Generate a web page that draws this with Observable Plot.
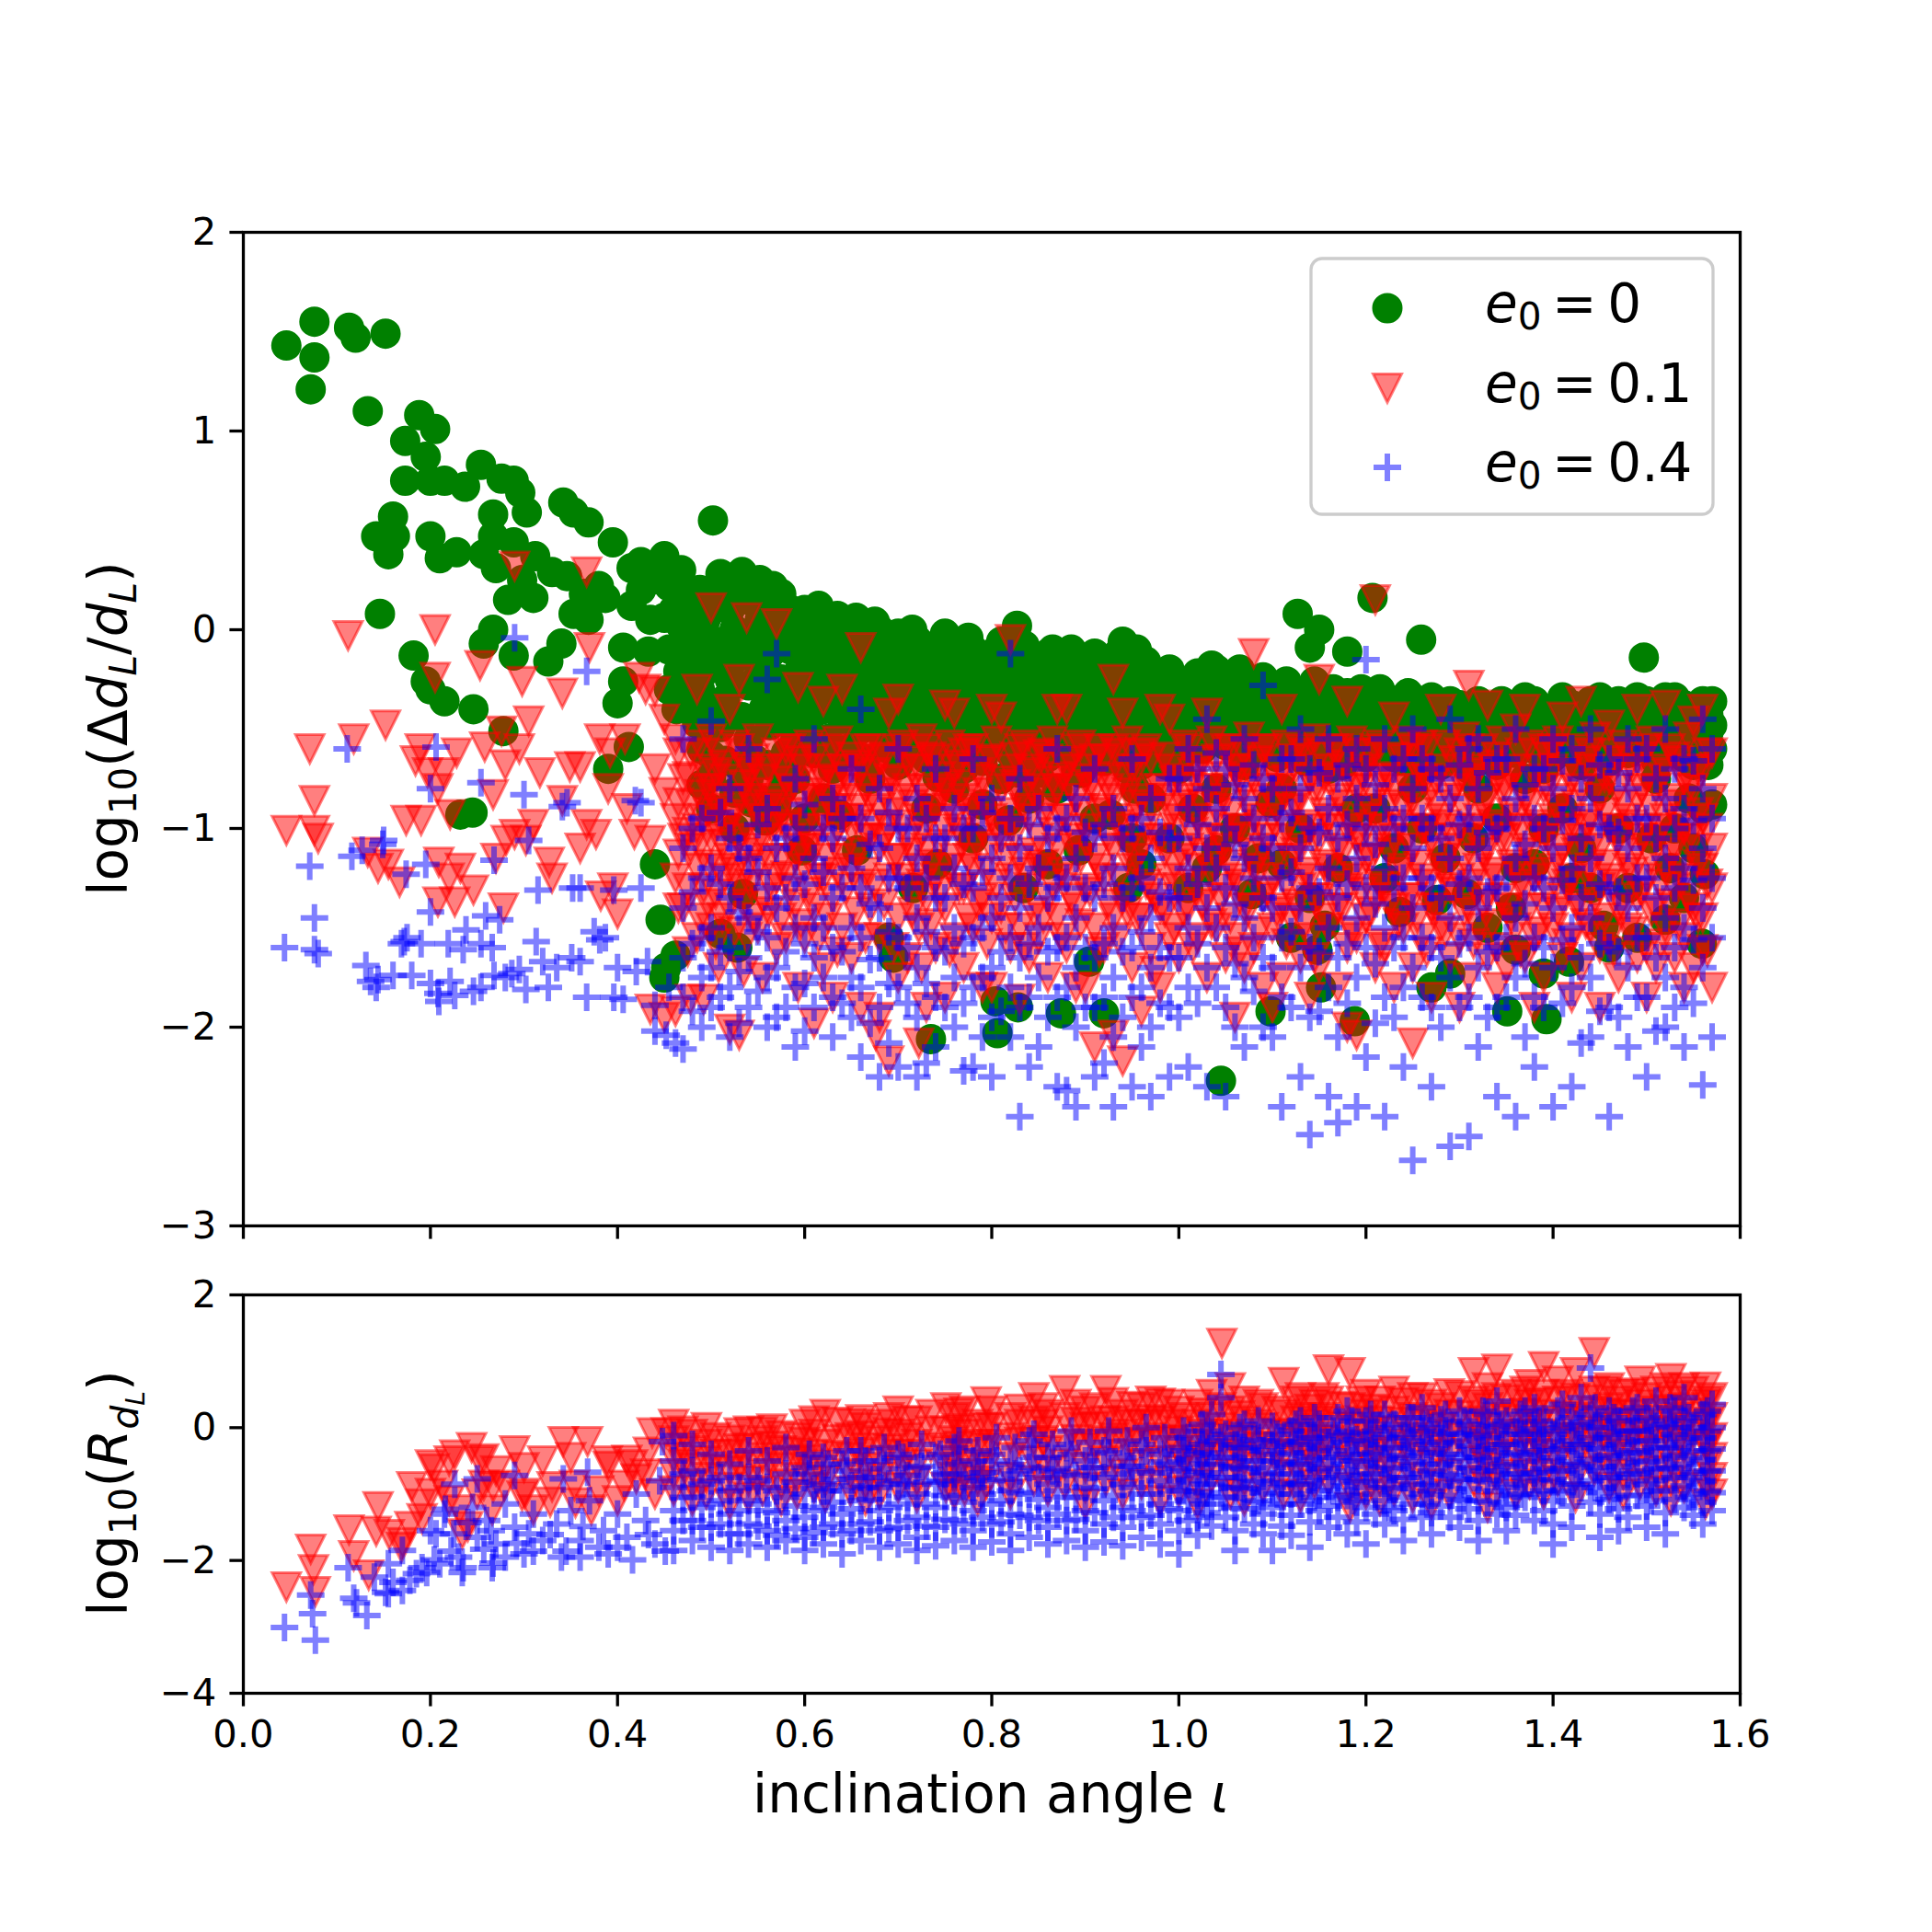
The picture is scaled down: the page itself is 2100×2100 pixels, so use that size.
<!DOCTYPE html>
<html><head><meta charset="utf-8">
<script src="https://cdn.jsdelivr.net/npm/d3@7"></script>
<script src="https://cdn.jsdelivr.net/npm/@observablehq/plot@0.6"></script>
<style>
body{margin:0;background:#fff;}
#fig{position:relative;width:2100px;height:2100px;background:#fff;font-family:"DejaVu Sans";}
#fig svg{position:absolute;left:0;max-width:none;}
</style></head><body><div id="fig"></div>
<script>
// ---- tick values ----
const xTicks = [0, 0.2, 0.4, 0.6, 0.8, 1.0, 1.2, 1.4, 1.6];
const topYTicks = [-3, -2, -1, 0, 1, 2];
const botYTicks = [-4, -2, 0, 2];
const legendLabels = ["0", "0.1", "0.4"];

// ---- data rows: [x, y1, y2, ...] ----
// top panel, e0 = 0 (green circles)
const topE0_0 = [
[0.046,1.43],[0.072,1.21],[0.076,1.55,1.37],[0.113,1.52],[0.12,1.47],[0.133,1.10],[0.142,0.47],[0.146,0.08],[0.152,1.49],[0.155,0.38],[0.16,0.57],[0.162,0.47],[0.173,0.95,0.75],[0.182,-0.13],[0.188,1.08],[0.195,0.87,-0.26],[0.2,0.75,0.47,-0.30],[0.205,1.01],[0.21,0.36],[0.215,0.75,-0.36],[0.228,0.39],[0.232,-0.93],[0.237,0.72],[0.245,-0.92],[0.246,-0.40],[0.254,0.83],[0.257,0.38,-0.07],[0.267,0.58,0.47,0.0],[0.27,0.31],[0.276,0.76],[0.278,-0.51],[0.283,0.15],[0.289,0.75,0.44,-0.13],[0.296,0.69],[0.298,0.25],[0.303,0.59],[0.31,0.16],[0.312,0.37],[0.326,-0.16],[0.33,0.29],[0.34,-0.07],[0.342,0.64],[0.346,0.27],[0.353,0.59,0.08],[0.364,0.18],[0.369,0.54,0.05],[0.38,0.22],[0.387,0.16],[0.39,-0.70],[0.395,0.44],[0.4,-0.37],[0.406,-0.09,-0.26],[0.412,-0.59],[0.415,0.31,0.12],[0.425,0.34,0.20],[0.433,-0.11],[0.435,0.25,0.05],[0.44,-1.18],[0.446,0.30,-1.46],[0.45,0.37,0.06,-1.75],[0.452,-1.70],[0.46,0.25,0.10],[0.462,-1.64],[0.463,-0.40],[0.465,-0.21],[0.47,0.15,-0.05],[0.48,-0.01],[0.485,-0.24,-0.47],[0.494,0.05],[0.49,-0.10],[0.5,-0.63,-0.74],[0.502,0.55],[0.505,-0.06],[0.51,0.28,-0.49,-1.53],[0.52,0.10,-0.25],[0.528,-1.60],[0.53,-0.69],[0.533,0.29,-0.44],[0.534,-1.33],[0.544,-0.87],[0.546,-0.65],[0.55,-0.15],[0.556,-0.40,-0.86],[0.558,-0.96],[0.56,-0.05],[0.566,0.22,-0.30],[0.57,0.19],[0.577,-0.80],[0.58,-0.43,-0.62],[0.59,0.05],[0.595,-0.20],[0.597,-1.11],
[0.60,0.10,-0.05,-0.20,-0.38],[0.61,-0.62],[0.62,0.08,-0.08,-0.22,-0.40,-0.85],[0.63,-0.70],[0.637,-0.93],[0.64,0.05,-0.10,-0.28,-0.45],[0.65,-0.59],[0.656,-1.11],[0.66,0.02,-0.12,-0.30,-0.50],[0.67,-0.75],[0.68,0.0,-0.15,-0.30,-0.48],[0.685,-0.55],[0.69,-1.55],[0.695,-1.65],[0.70,-0.02,-0.16,-0.32,-0.52,-0.68],[0.716,-1.30],[0.72,-0.05,-0.20,-0.35,-0.55],[0.73,-0.90],[0.735,-2.06],[0.74,-0.08,-0.22,-0.38,-0.58],[0.742,-0.74,-1.18],[0.76,-0.06,-0.20,-0.36,-0.52,-0.80],[0.77,-0.70],[0.78,-0.10,-0.25,-0.40,-0.60,-1.05],[0.79,-0.88],[0.80,-0.12,-0.26,-0.42,-0.58],[0.804,-1.87],[0.806,-2.03],[0.81,-0.75],[0.818,-0.96],[0.82,-0.10,-0.28,-0.44,-0.62],[0.827,0.02],[0.828,-1.90],[0.83,-0.72],[0.834,-1.30],[0.84,-0.14,-0.30,-0.45,-0.60,-0.85],[0.86,-0.12,-0.28,-0.42,-0.64,-1.18],[0.87,-0.80],[0.874,-1.93],[0.88,-0.15,-0.30,-0.48,-0.62],[0.89,-0.70],[0.893,-1.11],[0.90,-0.18,-0.32,-0.46,-0.60],[0.904,-1.67],[0.91,-0.95],[0.92,-0.16,-0.34,-0.50,-0.66,-1.93],[0.927,-0.93],[0.94,-0.06,-0.30,-0.45,-0.62],[0.946,-1.30],[0.95,-1.05],[0.953,-0.80],[0.96,-0.20,-0.36,-0.52,-0.68,-1.18],[0.97,-0.85],[0.98,-0.22,-0.38,-0.50,-0.64],[0.986,-0.68],[0.99,-1.05],[1.00,-0.26,-0.40,-0.55,-0.70],
[1.015,-0.90],[1.01,-1.30],[1.02,-0.22,-0.38,-0.52],[1.03,-1.20],[1.04,-0.20,-0.34,-0.50,-0.80,-1.11],[1.045,-2.27],[1.06,-0.24,-0.40,-0.55,-1.00],[1.07,-0.68],[1.078,-1.33],[1.08,-0.28,-0.42,-0.58],[1.085,-1.15],[1.098,-0.87,-1.92],[1.10,-0.30,-0.44,-0.56],[1.105,-0.62],[1.11,-0.80,-1.18],[1.12,-0.32,-0.46,-0.60,-1.55],[1.127,0.08],[1.13,-1.00],[1.14,-0.09,-0.30,-0.42,-0.58,-1.35],[1.15,0.0],[1.148,-1.61],[1.152,-1.80],[1.156,-1.49],[1.16,-0.34,-0.48,-0.62,-0.70],[1.17,-1.20],[1.18,-0.11,-0.32,-0.46,-0.60],[1.188,-1.97],[1.19,-0.90],[1.20,-0.36,-0.50,-0.64],[1.207,0.16],[1.21,-0.90],[1.22,-0.34,-0.48,-0.60,-1.25],[1.23,-1.10],[1.236,-1.42],[1.24,-0.38,-0.52,-0.66],[1.25,-0.80],[1.259,-0.05],[1.26,-0.36,-0.50,-0.62,-1.00],[1.27,-1.80],[1.276,-1.36],[1.28,-0.40,-0.54,-0.68],[1.285,-1.15],[1.29,-1.73],[1.30,-0.38,-0.50,-0.64],[1.308,-1.33],[1.315,-1.05],[1.32,-0.36,-0.52,-0.66,-0.80],[1.33,-1.50],[1.34,-0.40,-0.54,-0.68,-0.95],[1.351,-1.92],[1.355,-1.40],[1.36,-0.38,-0.50,-0.62,-1.20,-1.61],[1.37,-0.75],[1.38,-0.36,-0.48,-0.60,-1.18],[1.39,-1.00,-1.73],[1.393,-1.96],[1.40,-0.40,-0.52,-0.64],[1.41,-0.90],[1.417,-1.67],[1.42,-0.38,-0.50,-0.62,-1.25],[1.43,-1.10],[1.44,-0.36,-0.48,-0.60,-1.30],[1.45,-0.80],[1.454,-1.49],[1.46,-0.40,-0.52,-0.66,-1.60],[1.47,-1.00],[1.48,-0.38,-0.50,-0.62,-1.30],[1.49,-1.55],[1.497,-0.14],[1.50,-0.36,-0.48,-0.60],[1.505,-1.05],[1.51,-0.75],[1.52,-0.34,-0.46,-0.58,-1.46],[1.525,-1.20],[1.53,-1.00],[1.54,-0.38,-0.50,-0.64,-1.35],[1.545,-0.85],[1.55,-1.10],[1.56,-0.36,-0.48,-0.62,-0.90],[1.559,-1.58],[1.562,-1.23],[1.566,-0.43,-0.52,-0.68],
[0.455,0.22,-0.10,-0.30],[0.468,0.30,0.02],[0.475,0.12,-0.18,-0.35],[0.488,0.20,-0.02,-0.30],[0.497,0.08,-0.20,-0.40],[0.515,0.18,-0.12,-0.35],[0.525,0.22,0.0,-0.15],[0.54,0.15,-0.05,-0.28,-0.55],[0.552,0.25,0.05,-0.22],[0.563,0.10,-0.12,-0.48],[0.575,0.18,0.0,-0.25],[0.585,0.10,-0.10,-0.35,-0.70],[0.605,0.02,-0.13,-0.30,-0.50],[0.615,0.12,-0.02,-0.15,-0.32],[0.625,0.0,-0.15,-0.35,-0.55],[0.635,0.07,-0.05,-0.20,-0.38],[0.645,-0.02,-0.18,-0.36,-0.62],[0.655,0.06,-0.06,-0.22,-0.42],[0.665,-0.05,-0.20,-0.40,-0.65],[0.675,0.04,-0.08,-0.24,-0.42],[0.69,-0.07,-0.22,-0.40,-0.60],[0.705,-0.10,-0.25,-0.42,-0.62],[0.715,0.0,-0.12,-0.28,-0.45],[0.73,-0.12,-0.28,-0.45,-0.65],[0.75,-0.02,-0.14,-0.30,-0.46,-0.70],[0.765,-0.12,-0.28,-0.44,-0.62],[0.775,-0.04,-0.18,-0.33,-0.50],[0.79,-0.16,-0.32,-0.48,-0.66],[0.81,-0.06,-0.20,-0.35,-0.52],[0.825,-0.18,-0.35,-0.52,-0.70],[0.835,-0.08,-0.22,-0.38,-0.55],[0.85,-0.20,-0.36,-0.52,-0.72],[0.865,-0.10,-0.24,-0.38,-0.56],[0.875,-0.22,-0.38,-0.55],[0.885,-0.10,-0.24,-0.40,-0.58],[0.895,-0.25,-0.40,-0.55,-0.72],[0.91,-0.12,-0.26,-0.42,-0.58],[0.925,-0.24,-0.40,-0.58],[0.935,-0.12,-0.22,-0.38,-0.54],[0.945,-0.15,-0.36,-0.52,-0.70],[0.955,-0.10,-0.28,-0.44,-0.60],[0.965,-0.16,-0.30,-0.46,-0.62],[0.975,-0.26,-0.42,-0.58],[0.99,-0.20,-0.32,-0.46,-0.60],[1.005,-0.30,-0.45,-0.62],[1.025,-0.28,-0.44,-0.60],[1.035,-0.18,-0.30,-0.46],[1.05,-0.26,-0.42,-0.58],[1.065,-0.20,-0.32,-0.48],[1.075,-0.30,-0.46,-0.62],[1.09,-0.24,-0.36,-0.50],[1.105,-0.34,-0.50,-0.64],[1.115,-0.26,-0.40,-0.54],[1.135,-0.36,-0.52,-0.66],[1.145,-0.26,-0.40,-0.52],[1.165,-0.30,-0.44,-0.56],[1.175,-0.38,-0.54,-0.68],[1.195,-0.30,-0.44,-0.58],[1.205,-0.40,-0.56],[1.215,-0.30,-0.44,-0.56],[1.23,-0.36,-0.50,-0.64],[1.245,-0.32,-0.46,-0.58],[1.255,-0.40,-0.56,-0.70],[1.27,-0.34,-0.46,-0.60],[1.29,-0.36,-0.48,-0.62],[1.31,-0.42,-0.56,-0.70],[1.325,-0.40,-0.48,-0.60],[1.345,-0.36,-0.46,-0.60],[1.37,-0.34,-0.46,-0.58],[1.39,-0.42,-0.56,-0.70],[1.41,-0.34,-0.46,-0.58],[1.43,-0.40,-0.54,-0.68],[1.45,-0.34,-0.46,-0.58],[1.47,-0.36,-0.48,-0.62],[1.49,-0.34,-0.46,-0.58],[1.51,-0.38,-0.52,-0.66],[1.53,-0.34,-0.44,-0.56],[1.55,-0.40,-0.54,-0.68],[1.57,-0.36,-0.48,-0.60,-0.88],
[0.49,-0.60,-0.78],[0.5,-0.90],[0.515,-0.66],[0.525,-0.82,-1.0],[0.54,-0.75],[0.56,-0.68],[0.57,-0.90],[0.59,-0.55,-0.75],[0.6,-0.95]
];
// top panel, e0 = 0.1 (red triangles)
const topE0_1 = [
[0.046,-1.01],[0.071,-0.60],[0.076,-0.86,-1.01],[0.08,-1.05],[0.112,-0.03],[0.118,-0.55],[0.133,-1.12],[0.144,-1.20],[0.152,-0.48],[0.155,-1.18],[0.167,-1.27],[0.174,-0.96],[0.184,-0.66],[0.189,-0.60],[0.19,-0.96],[0.197,-0.72],[0.205,0.0,-0.24],[0.208,-0.80,-1.37],[0.209,-1.17],[0.214,-0.72],[0.221,-0.93],[0.22,-1.25],[0.226,-1.37],[0.228,-0.62],[0.232,-1.20],[0.246,-1.31],[0.253,-0.18],[0.258,-0.59],[0.267,-0.83],[0.27,-1.15],[0.276,-0.51],[0.278,-1.40],[0.28,-0.68],[0.281,-1.06],[0.29,0.32,-1.03],[0.295,-0.60],[0.298,-0.26],[0.302,-1.06],[0.305,-0.46],[0.31,-0.98],[0.317,-0.72],[0.327,-1.17],[0.33,-1.25],[0.341,-0.32,-0.86],[0.349,-0.69],[0.36,-0.69,-1.10],[0.367,0.29,-0.98],[0.37,-0.09],[0.377,-1.03],[0.381,-0.55],[0.382,-1.34],[0.39,-0.80],[0.392,-0.62],[0.395,-1.30],[0.4,-1.43],[0.408,-0.55],[0.41,-0.90],[0.418,-1.03],[0.423,-0.24],[0.43,-0.30],[0.435,-1.06,-1.91],[0.44,-0.31,-0.70],[0.45,-0.45,-0.82,-1.95],
[0.462,-0.55,-0.95,-1.25,-1.92],[0.47,-0.75,-1.05,-1.40],[0.478,-0.62,-0.88,-1.10,-1.86],[0.485,-0.30,-1.00,-1.20,-1.55],[0.492,-0.70,-0.95,-1.30,-1.86],[0.50,0.11,-0.55,-0.80,-1.05,-1.50],[0.508,-0.62,-0.90,-1.20,-1.70],[0.515,-0.75,-1.00,-1.25],[0.52,-0.40,-0.95,-1.15,-1.40,-2.01],[0.53,-0.25,-0.60,-0.85,-1.05,-1.30,-2.04],[0.538,0.06,-0.70,-1.00,-1.20,-1.55],[0.546,-0.65,-0.90,-1.10,-1.45],[0.555,-0.75,-0.95,-1.05,-1.35,-1.75],[0.57,0.03,-0.62,-0.85,-1.00,-1.25,-1.60],[0.575,-0.70,-0.90,-1.15,-1.45],[0.585,-0.60,-0.80,-1.05,-1.30],[0.593,-0.29,-1.80],[0.60,-0.70,-1.00,-1.20,-1.55],[0.61,-0.65,-0.85,-1.10,-1.40,-1.98],[0.62,-0.36,-0.75,-0.95,-1.25,-1.70],[0.63,-0.60,-0.90,-1.05,-1.35,-1.85],[0.64,-0.30,-0.70,-0.85,-1.15,-1.50],[0.65,-0.64,-0.80,-1.00,-1.20,-1.65],[0.66,-0.09,-0.70,-0.95,-1.30,-1.90],[0.67,-0.60,-0.85,-1.05,-1.40],[0.676,-2.04],[0.68,-0.65,-0.90,-1.10,-1.55,-1.95],[0.69,-0.42,-0.75,-1.00,-1.25,-2.17],[0.70,-0.35,-0.60,-0.85,-1.15,-1.45,-1.75],[0.71,-0.66,-0.80,-1.05,-1.30,-1.65],[0.722,-0.70,-0.95,-1.20,-1.50,-2.08],[0.73,-0.60,-0.85,-1.10,-1.35,-1.90],[0.74,-0.65,-0.90,-1.25,-1.60],[0.75,-0.38,-0.80,-1.00,-1.40,-1.85],[0.76,-0.42,-0.70,-0.95,-1.15,-1.55],[0.77,-0.62,-0.85,-1.05,-1.30,-1.70],[0.78,-0.60,-0.90,-1.20,-1.50],[0.79,-0.75,-1.00,-1.35,-1.80],[0.80,-0.40,-0.65,-0.95,-1.10,-1.45,-1.80],[0.81,-0.44,-0.80,-1.05,-1.40],[0.82,-0.05,-0.70,-1.00,-1.25,-1.60],[0.83,-0.60,-0.85,-1.15,-1.50,-1.86],[0.84,-0.70,-0.95,-1.30,-1.65],[0.85,-0.63,-0.80,-1.05,-1.20,-1.55],[0.86,-0.65,-0.90,-1.35,-1.75],[0.87,-0.40,-0.80,-1.10,-1.45],[0.88,-0.40,-0.70,-0.95,-1.25,-1.60],[0.89,-0.60,-0.85,-1.05,-1.40,-1.80],[0.90,-0.75,-1.00,-1.30,-1.80],[0.91,-0.65,-0.80,-1.15,-1.50,-2.10],[0.92,-0.65,-0.90,-1.25,-1.60],[0.93,-0.25,-0.60,-0.85,-1.10,-1.45,-2.04],[0.94,-0.42,-0.75,-1.00,-1.35,-2.17],[0.95,-0.70,-0.95,-1.20,-1.70],[0.96,-0.62,-0.85,-1.10,-1.45,-1.92],[0.97,-0.65,-0.90,-1.30,-1.60],[0.98,-0.40,-0.80,-1.05,-1.40,-1.80],[0.99,-0.45,-0.70,-0.95,-1.25,-1.55],
[1.00,-0.75,-1.00,-1.30,-1.65],[1.01,-0.60,-0.85,-1.10,-1.40],[1.02,-0.70,-0.95,-1.20,-1.55],[1.03,-0.42,-0.80,-1.05,-1.35,-1.75],[1.04,-0.65,-0.90,-1.15,-1.50],[1.05,-0.60,-0.85,-1.10,-1.30,-1.65],[1.06,-0.70,-1.00,-1.25,-1.55,-1.95],[1.07,-0.62,-0.80,-1.05,-1.40,-1.70],[1.08,-0.12,-0.75,-0.95,-1.20,-1.60],[1.09,-0.60,-0.85,-1.10,-1.35,-1.80],[1.10,-0.70,-0.95,-1.25,-1.50,-1.90],[1.11,-0.40,-0.80,-1.05,-1.40,-1.75],[1.12,-0.65,-0.90,-1.15,-1.45],[1.13,-0.60,-0.85,-1.10,-1.30,-1.65],[1.14,-0.75,-1.00,-1.25,-1.55,-1.85],[1.15,-0.25,-0.64,-0.80,-1.05,-1.35,-1.70],[1.16,-0.70,-0.95,-1.20,-1.50],[1.17,-0.60,-0.85,-1.10,-1.40,-1.80],[1.18,-0.36,-0.75,-1.00,-1.30,-1.60,-2.00],[1.19,-0.62,-0.80,-1.05,-1.25,-1.55,-2.04],[1.20,-0.70,-0.95,-1.15,-1.45],[1.21,0.15,-0.60,-0.85,-1.10,-1.35,-1.70],[1.22,-0.75,-1.00,-1.30,-1.60],[1.23,-0.44,-0.80,-1.05,-1.40,-1.80],[1.24,-0.65,-0.90,-1.20,-1.50],[1.25,-0.60,-0.85,-1.10,-1.35,-1.70,-2.08],[1.26,-0.58,-0.75,-1.00,-1.25,-1.55],[1.27,-0.80,-1.05,-1.40,-1.85],[1.28,-0.40,-0.70,-0.95,-1.20,-1.50],[1.29,-0.85,-1.10,-1.30,-1.65],[1.30,-0.62,-0.75,-1.00,-1.25,-1.55,-1.90],[1.31,-0.28,-0.60,-0.80,-1.05,-1.40,-1.75],[1.32,-0.70,-0.95,-1.20,-1.50],[1.33,-0.38,-0.85,-1.10,-1.35,-1.65],[1.34,-0.64,-0.75,-1.00,-1.25,-1.60,-1.80],[1.35,-0.80,-1.05,-1.40,-1.70],[1.36,-0.50,-0.70,-0.95,-1.20,-1.50],[1.37,-0.40,-0.85,-1.10,-1.30,-1.65],[1.38,-0.75,-1.00,-1.25,-1.55,-1.90],[1.39,-0.60,-0.80,-1.05,-1.40,-1.75],[1.40,-0.60,-0.70,-0.95,-1.20,-1.50],[1.41,-0.44,-0.85,-1.10,-1.35,-1.65],[1.42,-0.75,-1.00,-1.25,-1.55,-1.85],[1.43,-0.36,-0.80,-1.05,-1.40,-1.70],[1.44,-0.62,-0.70,-0.95,-1.20,-1.50],[1.45,-0.85,-1.10,-1.30,-1.60,-1.90],[1.46,-0.48,-0.75,-1.00,-1.25,-1.55],[1.47,-0.66,-0.80,-1.05,-1.40,-1.75],[1.48,-0.70,-0.95,-1.20,-1.50],[1.49,-0.40,-0.85,-1.10,-1.35,-1.65],[1.50,-0.60,-0.75,-1.00,-1.25,-1.60,-1.85],[1.51,-0.80,-1.05,-1.40,-1.70],[1.52,-0.38,-0.70,-0.95,-1.20,-1.50],[1.53,-0.64,-0.85,-1.10,-1.30,-1.65],[1.54,-0.75,-1.00,-1.25,-1.55,-1.80],[1.55,-0.46,-0.80,-1.05,-1.40,-1.70],[1.56,-0.40,-0.70,-0.95,-1.20,-1.45,-1.61],[1.57,-0.62,-0.85,-1.10,-1.30,-1.80],
[0.465,-0.62,-0.87,-1.13,-1.40],[0.475,-0.74,-1.02,-1.30,-1.62],[0.488,-0.58,-0.83,-1.08,-1.45],[0.497,-0.80,-0.92,-1.18,-1.38],[0.505,-0.72,-0.98,-1.33,-1.58],[0.512,-0.68,-0.85,-1.08,-1.45],[0.525,-0.58,-0.93,-1.22,-1.52],[0.535,-0.78,-1.12,-1.38,-1.72],[0.542,-0.72,-0.85,-1.28],[0.55,-0.55,-0.82,-1.18,-1.50],[0.562,-0.70,-0.88,-1.15,-1.42],[0.565,-1.00,-1.30],[0.58,-0.60,-0.76,-0.98,-1.24,-1.55],[0.59,-0.92,-1.15,-1.38],[0.596,-0.66,-0.85,-1.10,-1.48],[0.605,-0.58,-0.82,-1.08,-1.32],[0.615,-0.76,-1.00,-1.25,-1.55],[0.625,-0.70,-0.86,-1.15,-1.45],[0.635,-0.56,-0.78,-1.00,-1.22,-1.62],[0.645,-0.74,-0.95,-1.30],[0.655,-0.68,-0.90,-1.12,-1.42],[0.665,-0.60,-0.80,-1.05,-1.22,-1.55],[0.675,-0.72,-0.98,-1.28],[0.685,-0.64,-0.82,-1.05,-1.38],[0.695,-0.76,-0.92,-1.15,-1.60],[0.705,-0.58,-0.98,-1.25],[0.715,-0.70,-0.88,-1.12,-1.42],[0.725,-0.55,-0.80,-1.02,-1.28,-1.70],[0.735,-0.64,-0.95,-1.18,-1.48],[0.745,-0.74,-0.82,-1.08,-1.32],[0.755,-0.58,-0.88,-1.20,-1.62],[0.765,-0.68,-0.78,-1.02,-1.30],[0.775,-0.60,-0.92,-1.15,-1.45],[0.785,-0.72,-0.82,-1.08,-1.38],[0.795,-0.66,-0.88,-1.22,-1.58],[0.805,-0.56,-0.98,-1.28],[0.815,-0.76,-0.92,-1.15,-1.50],[0.825,-0.64,-0.78,-1.02,-1.35],[0.835,-0.58,-0.90,-1.22,-1.60],[0.845,-0.72,-0.82,-1.12,-1.42],[0.855,-0.62,-0.92,-1.18,-1.45],[0.865,-0.56,-0.76,-1.02,-1.28],[0.875,-0.74,-0.95,-1.22,-1.55],[0.885,-0.66,-0.80,-1.08,-1.35],[0.895,-0.58,-0.90,-1.15,-1.48],[0.905,-0.70,-0.78,-1.05,-1.32],[0.915,-0.60,-0.92,-1.20,-1.62],[0.925,-0.74,-0.80,-1.05,-1.38],[0.935,-0.62,-0.98,-1.25,-1.55],[0.945,-0.56,-0.82,-1.10,-1.42],[0.955,-0.70,-0.88,-1.15,-1.45],[0.965,-0.60,-1.00,-1.28],[0.975,-0.80,-1.05,-1.35,-1.72],[0.985,-0.64,-0.85,-1.12,-1.42],[0.995,-0.76,-0.90,-1.18,-1.50],
[1.005,-0.58,-0.88,-1.15,-1.42],[1.015,-0.72,-0.78,-1.02,-1.28,-1.60],[1.025,-0.66,-0.88,-1.12,-1.38],[1.035,-0.56,-0.98,-1.22,-1.48],[1.045,-0.74,-0.80,-1.05,-1.35],[1.055,-0.60,-0.92,-1.18,-1.45],[1.065,-0.70,-0.75,-1.00,-1.28,-1.62],[1.075,-0.54,-0.88,-1.12,-1.40],[1.085,-0.66,-0.98,-1.22,-1.52],[1.095,-0.60,-0.80,-1.05,-1.32],[1.105,-0.76,-0.90,-1.15,-1.42],[1.115,-0.58,-0.75,-1.00,-1.28,-1.58],[1.125,-0.70,-0.88,-1.12,-1.38],[1.135,-0.62,-0.98,-1.22,-1.48],[1.145,-0.55,-0.80,-1.05,-1.35,-1.65],[1.155,-0.74,-0.92,-1.18,-1.45],[1.165,-0.60,-0.75,-1.00,-1.28],[1.175,-0.68,-0.88,-1.12,-1.40],[1.185,-0.56,-0.98,-1.22,-1.52],[1.195,-0.72,-0.80,-1.05,-1.32],[1.205,-0.62,-0.90,-1.15,-1.42],[1.215,-0.58,-0.75,-1.00,-1.28,-1.58],[1.225,-0.74,-0.88,-1.12,-1.38],[1.235,-0.64,-0.98,-1.22,-1.48],[1.245,-0.56,-0.80,-1.05,-1.35],[1.255,-0.70,-0.92,-1.18,-1.45],[1.265,-0.60,-0.75,-1.00,-1.28,-1.62],[1.275,-0.76,-0.88,-1.12,-1.40],[1.285,-0.58,-0.98,-1.22,-1.52],[1.295,-0.66,-0.80,-1.05,-1.32],[1.305,-0.54,-0.90,-1.15,-1.42],[1.315,-0.72,-0.75,-1.00,-1.28,-1.58],[1.325,-0.60,-0.88,-1.12,-1.38],[1.335,-0.68,-0.98,-1.22,-1.48],[1.345,-0.56,-0.80,-1.05,-1.35],[1.355,-0.74,-0.92,-1.18,-1.45],[1.365,-0.62,-1.00,-1.28,-1.62],[1.375,-0.58,-0.88,-1.12,-1.40],[1.385,-0.70,-0.98,-1.22,-1.52],[1.395,-0.64,-0.80,-1.05,-1.32],[1.405,-0.56,-0.90,-1.15,-1.42],[1.415,-0.72,-1.00,-1.28,-1.58],[1.425,-0.60,-0.88,-1.12,-1.38],[1.435,-0.66,-0.98,-1.22,-1.48],[1.445,-0.54,-0.80,-1.05,-1.35],[1.455,-0.74,-0.92,-1.18,-1.45],[1.465,-0.62,-1.00,-1.28,-1.62],[1.475,-0.58,-0.88,-1.12,-1.40],[1.485,-0.70,-0.98,-1.22,-1.52],[1.495,-0.64,-0.80,-1.05,-1.32],[1.505,-0.56,-0.90,-1.15,-1.42],[1.515,-0.72,-1.00,-1.28,-1.58],[1.525,-0.60,-0.88,-1.12,-1.38],[1.535,-0.66,-0.98,-1.22,-1.48],[1.545,-0.54,-0.80,-1.05,-1.35],[1.555,-0.70,-0.92,-1.18,-1.45],[1.565,-0.62,-1.00,-1.28,-1.62]
];
// top panel, e0 = 0.4 (blue plus)
const topE0_4 = [
[0.044,-1.60],[0.071,-1.19],[0.076,-1.45,-1.61],[0.08,-1.63],[0.111,-0.60],[0.116,-1.14],[0.127,-1.11],[0.131,-1.69],[0.136,-1.77],[0.142,-1.80],[0.144,-1.76],[0.149,-1.08],[0.15,-1.06],[0.16,-1.74],[0.169,-1.58],[0.172,-1.57],[0.174,-1.23],[0.175,-1.55],[0.18,-1.74],[0.19,-1.58],[0.195,-1.18],[0.2,-0.80,-1.42,-1.78],[0.206,-0.59],[0.208,-1.83],[0.209,-1.87],[0.219,-1.58],[0.221,-1.77],[0.226,-1.84],[0.235,-1.61],[0.238,-1.51],[0.246,-1.82],[0.254,-0.77,-1.58,-1.80],[0.259,-1.44],[0.266,-1.60],[0.268,-1.16,-1.74],[0.274,-1.46],[0.28,-1.75],[0.287,-1.73],[0.29,-0.04],[0.295,-1.71],[0.3,-0.83],[0.302,-1.81],[0.305,-1.06],[0.313,-1.57],[0.315,-1.31],[0.32,-1.67],[0.326,-1.80],[0.335,-1.70],[0.341,-0.89],[0.346,-0.87],[0.351,-1.65],[0.352,-1.30],[0.36,-1.30,-1.67],[0.367,-0.21,-1.85],[0.375,-1.52],[0.381,-1.56],[0.387,-1.55],[0.396,-1.31,-1.85],[0.40,-1.70],[0.406,-1.86],[0.419,-0.86],[0.42,-1.72],[0.425,-0.87,-1.30],[0.432,-1.67],[0.44,-2.02,-1.89],[0.452,-2.04],[0.455,-1.80],[0.462,-2.08],
[0.47,-0.55,-1.10,-1.40,-1.65,-1.85,-2.11],[0.49,-0.95,-1.25,-1.55,-1.75,-2.00],[0.50,-0.46,-1.20,-1.50,-1.70,-1.90],[0.52,-0.80,-1.05,-1.35,-1.60,-1.80,-2.05],[0.54,-0.60,-1.15,-1.45,-1.65,-1.90],[0.56,-0.25,-0.90,-1.30,-1.55,-1.75,-2.00],[0.57,-0.12,-1.10,-1.40,-1.70,-1.95],[0.59,-0.75,-1.00,-1.25,-1.50,-1.80,-2.10],[0.61,-0.55,-1.15,-1.45,-1.65,-1.90],[0.63,-0.85,-1.05,-1.35,-1.60,-1.85,-2.05],[0.65,-0.70,-1.20,-1.50,-1.75,-1.95],[0.66,-0.40,-0.95,-1.30,-1.55,-1.80,-2.15],[0.68,-0.80,-1.10,-1.40,-1.65,-1.90,-2.25],[0.70,-0.60,-1.00,-1.25,-1.55,-1.80,-2.20],[0.72,-0.85,-1.15,-1.45,-1.70,-1.95,-2.25],[0.74,-0.70,-1.05,-1.35,-1.60,-1.85,-2.10],[0.76,-0.90,-1.20,-1.50,-1.75,-2.00],[0.78,-0.65,-1.00,-1.30,-1.55,-1.80,-2.20],[0.80,-0.85,-1.15,-1.45,-1.70,-1.95,-2.25],[0.82,-0.12,-0.95,-1.25,-1.55,-1.80,-2.05],[0.83,-0.75,-1.10,-1.40,-1.65,-1.90,-2.45],[0.85,-0.90,-1.20,-1.50,-1.75,-2.10],[0.87,-0.60,-1.00,-1.30,-1.60,-1.85,-2.30],[0.89,-0.85,-1.15,-1.45,-1.70,-2.00,-2.40],[0.91,-0.70,-1.05,-1.35,-1.65,-1.90,-2.25],[0.93,-0.90,-1.20,-1.50,-1.75,-2.05,-2.40],[0.95,-0.65,-1.00,-1.30,-1.60,-1.85,-2.30],[0.97,-0.85,-1.15,-1.45,-1.70,-2.00,-2.35],[0.99,-0.75,-1.05,-1.35,-1.65,-1.90,-2.25],
[1.01,-0.60,-0.90,-1.20,-1.50,-1.80,-2.20],[1.03,-0.45,-0.80,-1.10,-1.40,-1.70,-2.30],[1.05,-0.70,-1.00,-1.30,-1.60,-1.90,-2.35],[1.07,-0.55,-0.85,-1.15,-1.45,-1.75,-2.10],[1.09,-0.28,-0.75,-1.05,-1.35,-1.65,-2.00],[1.11,-0.65,-0.95,-1.25,-1.55,-1.85,-2.40],[1.13,-0.50,-0.80,-1.10,-1.40,-1.70,-2.25],[1.14,-0.70,-1.00,-1.30,-1.60,-1.95,-2.54],[1.16,-0.55,-0.90,-1.20,-1.50,-1.80,-2.35],[1.17,-0.75,-1.05,-1.35,-1.65,-2.05,-2.48],[1.19,-0.60,-0.85,-1.15,-1.45,-1.75,-2.40],[1.20,-0.15,-0.70,-1.00,-1.30,-1.60,-2.15],[1.22,-0.55,-0.90,-1.20,-1.50,-1.85,-2.45],[1.24,-0.65,-0.95,-1.25,-1.55,-1.80,-2.20],[1.25,-0.50,-0.80,-1.10,-1.40,-1.70,-2.67],[1.27,-0.70,-1.00,-1.30,-1.60,-1.90,-2.30],[1.29,-0.45,-0.85,-1.15,-1.45,-1.75,-2.60],[1.31,-0.60,-0.95,-1.25,-1.55,-1.85,-2.55],[1.32,-0.55,-0.80,-1.10,-1.40,-1.70,-2.10],[1.34,-0.65,-1.00,-1.30,-1.60,-1.90,-2.35],[1.36,-0.50,-0.85,-1.15,-1.45,-1.75,-2.45],[1.38,-0.70,-0.95,-1.25,-1.55,-1.85,-2.20],[1.40,-0.55,-0.80,-1.10,-1.40,-1.70,-2.40],[1.42,-0.60,-0.90,-1.20,-1.50,-1.80,-2.30],[1.44,-0.50,-0.85,-1.15,-1.45,-1.75,-2.05],[1.46,-0.65,-1.00,-1.30,-1.60,-1.90,-2.45],[1.48,-0.55,-0.80,-1.10,-1.40,-1.70,-2.10],[1.50,-0.60,-0.95,-1.25,-1.55,-1.85,-2.25],[1.52,-0.50,-0.85,-1.15,-1.45,-1.75,-2.00],[1.54,-0.65,-0.90,-1.20,-1.50,-1.80,-2.10],[1.56,-0.45,-0.80,-1.10,-1.40,-1.70,-2.29],[1.57,-0.60,-0.95,-1.25,-1.55,-2.05],
[0.48,-1.00,-1.32,-1.58,-1.92],[0.51,-0.92,-1.28,-1.62,-1.85],[0.53,-1.10,-1.42,-1.72,-1.98],[0.55,-0.98,-1.22,-1.52,-1.82],[0.58,-1.05,-1.35,-1.62,-1.90],[0.60,-0.88,-1.28,-1.58,-1.78,-2.02],[0.62,-1.00,-1.22,-1.50,-1.75],[0.64,-0.95,-1.30,-1.62,-1.88],[0.67,-1.08,-1.38,-1.66,-1.98],[0.69,-0.92,-1.25,-1.52,-1.78,-2.08],[0.71,-1.00,-1.30,-1.60,-1.88],[0.73,-0.95,-1.25,-1.52,-1.78,-2.18],[0.75,-1.05,-1.35,-1.62,-1.90],[0.77,-1.00,-1.28,-1.58,-1.88,-2.22],[0.79,-0.92,-1.22,-1.50,-1.75,-2.05],[0.81,-1.05,-1.35,-1.62,-1.92],[0.84,-0.98,-1.28,-1.58,-1.85,-2.20],[0.86,-1.05,-1.35,-1.62,-1.95],[0.88,-0.95,-1.25,-1.55,-1.80,-2.32],[0.90,-1.02,-1.30,-1.60,-1.90],[0.92,-0.98,-1.28,-1.58,-1.85,-2.18],[0.94,-1.05,-1.35,-1.62,-1.95],[0.96,-0.95,-1.25,-1.52,-1.80,-2.10],[0.98,-1.02,-1.32,-1.60,-1.88],
[1.00,-0.75,-1.05,-1.35,-1.65,-1.95],[1.02,-0.70,-0.98,-1.28,-1.58,-1.88],[1.04,-0.62,-0.90,-1.20,-1.50,-1.80],[1.06,-0.78,-1.08,-1.38,-1.68,-2.00],[1.08,-0.68,-0.95,-1.25,-1.55,-1.82],[1.10,-0.80,-1.10,-1.40,-1.70,-2.05],[1.12,-0.65,-0.92,-1.22,-1.52,-1.90],[1.15,-0.72,-1.02,-1.32,-1.62,-1.92],[1.18,-0.68,-0.98,-1.28,-1.58,-1.88],[1.21,-0.78,-1.08,-1.38,-1.68,-1.98],[1.23,-0.70,-1.00,-1.30,-1.60,-1.95],[1.26,-0.65,-0.95,-1.25,-1.55,-1.85],[1.28,-0.75,-1.05,-1.35,-1.65,-2.00],[1.30,-0.68,-0.98,-1.28,-1.58,-1.90],[1.33,-0.72,-1.02,-1.32,-1.62,-1.95],[1.35,-0.65,-0.95,-1.25,-1.55,-1.85],[1.37,-0.78,-1.08,-1.38,-1.68,-2.05],[1.39,-0.70,-1.00,-1.30,-1.60,-1.90],[1.41,-0.66,-0.96,-1.26,-1.56,-1.88],[1.43,-0.75,-1.05,-1.35,-1.65,-2.08],[1.45,-0.68,-0.98,-1.28,-1.58,-1.92],[1.47,-0.72,-1.02,-1.32,-1.62,-1.95],[1.49,-0.65,-0.95,-1.25,-1.55,-1.85],[1.51,-0.75,-1.05,-1.35,-1.65,-2.02],[1.53,-0.70,-1.00,-1.30,-1.60,-1.90],[1.55,-0.66,-0.96,-1.26,-1.56,-1.88]
];
// bottom panel, e0 = 0.1 (red triangles)
const botE0_1 = [
[0.046,-2.40],[0.072,-1.83],[0.075,-2.14],[0.077,-2.47],[0.113,-1.54],[0.118,-1.93],[0.134,-2.22],[0.144,-1.19],[0.142,-1.56],[0.156,-1.61],[0.17,-1.73],[0.169,-1.80],[0.178,-1.49],[0.18,-0.89],[0.19,-1.15],[0.191,-1.37],[0.2,-0.56,-0.99],[0.204,-0.62],[0.213,-0.87],[0.22,-0.50,-1.10],[0.226,-0.41],[0.231,-1.24],[0.234,-1.60],[0.24,-1.49],[0.244,-0.30],[0.25,-1.00],[0.253,-0.50],[0.257,-0.47,-0.87],[0.266,-1.24],[0.267,-0.89],[0.27,-0.65],[0.279,-0.87],[0.29,-0.35],[0.298,-1.03],[0.30,-0.60],[0.301,-0.99],[0.31,-1.24],[0.32,-0.50],[0.328,-1.12],[0.33,-0.89],[0.342,-0.21],[0.35,-0.45],[0.354,-0.87],[0.355,-1.13],[0.368,-0.21],[0.372,-1.24],[0.38,-0.95],[0.389,-0.50],[0.39,-0.58],[0.40,-1.10],[0.407,-0.87],[0.41,-0.49],[0.416,-0.56],[0.42,-0.77],[0.43,-0.70],[0.433,-0.37],[0.437,-0.08],[0.44,-1.0],[0.452,-0.08],
[0.46,0.05,-0.20,-0.45,-0.70,-0.95],[0.48,-0.10,-0.35,-0.60,-0.85,-1.10],[0.495,0.00,-0.25,-0.50,-0.75,-1.00],[0.52,-0.19,-0.40,-0.65,-0.90,-1.15],[0.54,-0.05,-0.30,-0.55,-0.80,-1.05],[0.555,-0.06,-0.20,-0.45,-0.70,-0.95],[0.575,-0.12,-0.35,-0.60,-0.85,-1.10],[0.592,-0.37,-0.15,-0.50,-0.75,-1.00],[0.61,0.10,-0.10,-0.40,-0.65,-0.90],[0.622,0.20,-0.25,-0.55,-0.80,-1.05],[0.649,0.06,-0.15,-0.45,-0.70,-0.95],[0.665,0.00,-0.30,-0.60,-0.85,-1.10],[0.68,0.05,-0.20,-0.50,-0.75,-1.00],[0.70,0.25,-0.10,-0.40,-0.65,-0.90],[0.72,0.10,-0.25,-0.55,-0.80,-1.05],[0.751,0.30,-0.05,-0.35,-0.60,-0.90],[0.76,0.15,-0.20,-0.50,-0.75,-1.00],[0.771,0.25,-0.10,-0.40,-0.70,-0.95],[0.785,0.05,-0.25,-0.55,-0.80,-1.10],[0.794,0.39,0.00,-0.30,-0.60,-0.85],[0.82,0.15,-0.15,-0.45,-0.75,-1.00],[0.845,0.45,0.10,-0.20,-0.50,-0.80],[0.86,0.20,-0.05,-0.35,-0.65,-0.95],[0.878,0.56,0.15,-0.25,-0.55,-0.85],[0.90,0.25,0.00,-0.30,-0.60,-0.90,-1.15],[0.922,0.56,0.10,-0.20,-0.50,-0.80],[0.94,0.20,-0.10,-0.40,-0.70,-1.00],[0.96,0.30,0.05,-0.25,-0.55,-0.85],[0.98,0.37,0.10,-0.20,-0.50,-0.80,-1.10],[1.00,0.25,-0.05,-0.35,-0.65,-0.95],[1.02,0.35,0.05,-0.25,-0.55,-0.85,-1.15],[1.035,0.50,0.15,-0.15,-0.45,-0.75],[1.046,1.27],[1.055,0.60,0.25,-0.10,-0.40,-0.70,-1.00],[1.07,0.40,0.10,-0.20,-0.50,-0.80,-1.10],[1.09,0.30,0.00,-0.30,-0.60,-0.90],[1.112,0.68,0.20,-0.10,-0.40,-0.70,-1.00],[1.13,0.45,0.15,-0.15,-0.45,-0.75,-1.05],[1.145,0.35,0.05,-0.25,-0.55,-0.85],[1.16,0.87,0.40,0.10,-0.20,-0.50,-0.80],[1.183,0.83,0.30,0.00,-0.30,-0.60,-0.90,-1.20],[1.20,0.50,0.20,-0.10,-0.40,-0.70,-1.00],[1.215,0.40,0.10,-0.20,-0.50,-0.80,-1.10],[1.23,0.55,0.25,-0.05,-0.35,-0.65,-0.95],[1.25,0.45,0.15,-0.15,-0.45,-0.75,-1.05],[1.27,0.35,0.05,-0.25,-0.55,-0.85,-1.15],[1.289,0.51,0.20,-0.10,-0.40,-0.70,-1.00],[1.315,0.83,0.40,0.10,-0.20,-0.50,-0.80],[1.33,0.60,0.30,0.00,-0.30,-0.60,-0.90,-1.20],[1.34,0.88,0.45,0.15,-0.15,-0.45,-0.75],[1.36,0.50,0.20,-0.10,-0.40,-0.70,-1.00],[1.375,0.65,0.35,0.05,-0.25,-0.55,-0.85],[1.39,0.92,0.50,0.20,-0.10,-0.40,-0.70,-1.00],[1.405,0.70,0.40,0.10,-0.20,-0.50,-0.80],[1.424,0.83,0.45,0.15,-0.15,-0.45,-0.75,-1.05],[1.444,1.13,0.55,0.25,-0.05,-0.35,-0.65],[1.46,0.60,0.30,0.00,-0.30,-0.60,-0.90],[1.475,0.50,0.20,-0.10,-0.40,-0.70,-1.00],[1.493,0.70,0.35,0.05,-0.25,-0.55,-0.85],[1.51,0.55,0.25,-0.05,-0.35,-0.65,-0.95],[1.526,0.74,0.40,0.10,-0.20,-0.50,-0.80,-1.10],[1.54,0.60,0.30,0.00,-0.30,-0.60,-0.90],[1.563,0.61,0.35,0.05,-0.25,-0.55,-0.85,-1.15],[1.57,0.45,0.15,-0.15,-0.45,-0.75,-1.00],
[0.47,-0.05,-0.30,-0.55],[0.505,-0.15,-0.40,-0.62],[0.53,-0.08,-0.32,-0.58],[0.565,-0.02,-0.28,-0.52],[0.6,0.05,-0.22,-0.48],[0.635,0.08,-0.18,-0.42],[0.66,0.12,-0.12,-0.38],[0.69,0.15,-0.08,-0.32],[0.71,0.10,-0.15,-0.40],[0.735,0.20,-0.05,-0.30],[0.765,0.22,-0.02,-0.28],[0.80,0.25,0.0,-0.25],[0.83,0.28,0.05,-0.22],[0.855,0.30,0.05,-0.20],[0.89,0.35,0.08,-0.18],[0.91,0.30,0.02,-0.25],[0.93,0.38,0.10,-0.15],[0.95,0.32,0.05,-0.22],[0.97,0.40,0.12,-0.15],[0.99,0.35,0.05,-0.20],
[1.005,0.15,-0.18,-0.48],[1.025,0.22,-0.10,-0.42],[1.045,0.30,0.0,-0.30],[1.065,0.18,-0.15,-0.45],[1.085,0.35,0.05,-0.28],[1.105,0.25,-0.08,-0.40],[1.125,0.40,0.10,-0.22],[1.14,0.28,-0.02,-0.35],[1.155,0.45,0.15,-0.18],[1.175,0.32,0.02,-0.30],[1.195,0.40,0.10,-0.25],[1.21,0.28,-0.05,-0.38],[1.24,0.38,0.08,-0.25],[1.26,0.45,0.12,-0.20],[1.28,0.30,0.0,-0.32],[1.30,0.48,0.18,-0.15],[1.32,0.35,0.05,-0.28],[1.35,0.42,0.12,-0.20],[1.37,0.55,0.22,-0.10],[1.385,0.38,0.05,-0.28],[1.415,0.50,0.18,-0.15],[1.435,0.42,0.10,-0.22],[1.455,0.55,0.22,-0.10],[1.47,0.40,0.08,-0.25],[1.485,0.52,0.20,-0.12],[1.50,0.45,0.12,-0.20],[1.52,0.60,0.28,-0.05],[1.535,0.48,0.15,-0.18],[1.55,0.55,0.22,-0.10],[1.565,0.40,0.08,-0.25]
];
// bottom panel, e0 = 0.4 (blue plus)
const botE0_4 = [
[0.044,-3.01],[0.072,-2.52],[0.074,-2.80],[0.077,-3.20],[0.112,-2.11],[0.118,-2.57],[0.121,-2.64],[0.132,-2.83],[0.14,-2.25],[0.152,-2.48],[0.155,-2.05,-2.50],[0.16,-2.33],[0.17,-2.45,-1.85],[0.178,-2.30],[0.185,-2.20],[0.191,-2.11],[0.196,-2.18],[0.2,-1.55],[0.204,-1.99],[0.206,-1.60],[0.21,-2.05],[0.215,-1.30],[0.216,-1.23],[0.222,-1.86],[0.225,-1.60],[0.226,-0.85],[0.23,-1.95],[0.234,-2.18],[0.235,-2.11],[0.24,-1.43],[0.245,-1.20],[0.25,-0.77,-1.65],[0.257,-1.83],[0.26,-1.40],[0.265,-1.55],[0.266,-2.11],[0.267,-2.04],[0.27,-1.75],[0.28,-1.15,-1.95],[0.29,-0.72,-1.50],[0.292,-1.74],[0.30,-1.90],[0.305,-1.60],[0.31,-1.30,-1.86],[0.32,-1.70],[0.328,-1.61],[0.335,-1.45],[0.34,-1.95],[0.342,-0.77],[0.345,-1.86],[0.35,-1.25],[0.36,-1.70,-1.95],[0.363,-1.49],[0.368,-0.67],[0.37,-1.10],[0.38,-1.80],[0.385,-1.55],[0.39,-1.90],[0.40,-1.30,-1.80],[0.41,-1.65],[0.416,-1.99],[0.42,-1.00],[0.43,-1.40],[0.433,-1.61],[0.44,-1.75],[0.445,-0.80],[0.448,-0.21],[0.451,-1.86],
[0.46,-0.12,-0.50,-0.90,-1.25,-1.55,-1.85],[0.48,-0.25,-0.65,-1.05,-1.40,-1.70],[0.50,-0.40,-0.80,-1.15,-1.50,-1.80],[0.52,-0.55,-0.95,-1.30,-1.60,-1.85],[0.54,-0.35,-0.75,-1.10,-1.45,-1.75],[0.56,-0.50,-0.90,-1.25,-1.55,-1.80],[0.58,-0.30,-0.70,-1.05,-1.40,-1.70],[0.60,-0.60,-1.00,-1.35,-1.65,-1.85],[0.62,-0.45,-0.85,-1.20,-1.50,-1.75],[0.64,-0.55,-0.95,-1.30,-1.60,-1.90],[0.66,-0.35,-0.75,-1.10,-1.45,-1.70],[0.68,-0.50,-0.90,-1.25,-1.55,-1.80],[0.70,-0.40,-0.80,-1.15,-1.50,-1.75],[0.72,-0.60,-1.00,-1.35,-1.65,-1.85],[0.74,-0.45,-0.85,-1.20,-1.50,-1.78],[0.76,-0.30,-0.70,-1.05,-1.40,-1.70],[0.78,-0.50,-0.90,-1.25,-1.55,-1.80],[0.80,-0.40,-0.80,-1.15,-1.45,-1.72],[0.82,-0.55,-0.95,-1.30,-1.60,-1.85],[0.84,-0.20,-0.60,-1.00,-1.35,-1.65],[0.86,-0.45,-0.85,-1.20,-1.50,-1.75],[0.88,-0.30,-0.70,-1.05,-1.40,-1.70],[0.90,-0.50,-0.90,-1.25,-1.55,-1.80],[0.92,-0.35,-0.75,-1.10,-1.45,-1.72],[0.94,-0.45,-0.85,-1.20,-1.50,-1.78],[0.96,-0.25,-0.65,-1.00,-1.35,-1.65],[0.98,-0.40,-0.80,-1.15,-1.45,-1.75],
[0.47,-0.70,-1.05,-1.40],[0.49,-0.85,-1.20,-1.50],[0.51,-0.75,-1.10,-1.45],[0.53,-0.90,-1.25,-1.60],[0.55,-0.80,-1.15,-1.48],[0.57,-0.95,-1.28,-1.62],[0.59,-0.82,-1.18,-1.52],[0.61,-0.92,-1.25,-1.58],[0.63,-0.78,-1.12,-1.45],[0.65,-0.88,-1.22,-1.55],[0.67,-0.75,-1.08,-1.42],[0.69,-0.85,-1.20,-1.52],[0.71,-0.72,-1.05,-1.40],[0.73,-0.82,-1.15,-1.48],[0.75,-0.70,-1.02,-1.38],[0.77,-0.80,-1.12,-1.45],[0.79,-0.68,-1.00,-1.35],[0.81,-0.78,-1.10,-1.42],[0.83,-0.65,-0.98,-1.32],[0.85,-0.75,-1.08,-1.40],[0.87,-0.62,-0.95,-1.30],[0.89,-0.72,-1.05,-1.38],[0.91,-0.60,-0.92,-1.28],[0.93,-0.70,-1.02,-1.35],[0.95,-0.58,-0.90,-1.25],[0.97,-0.68,-1.00,-1.32],[0.99,-0.55,-0.88,-1.22],
[0.605,-0.40,-0.70],[0.625,-0.55,-0.95],[0.645,-0.35,-0.65],[0.665,-0.50,-0.90],[0.685,-0.30,-0.62],[0.705,-0.45,-0.85],[0.725,-0.25,-0.58],[0.745,-0.40,-0.80],[0.765,-0.20,-0.55],[0.785,-0.35,-0.75],[0.805,-0.15,-0.50],[0.825,-0.30,-0.70],[0.845,-0.10,-0.45],[0.865,-0.25,-0.65],[0.885,-0.05,-0.40],[0.905,-0.22,-0.60],[0.925,-0.05,-0.38],[0.945,-0.20,-0.58],[0.965,0.0,-0.35],[0.985,-0.15,-0.52],
[1.00,-0.30,-0.62,-0.95,-1.25,-1.55,-1.90],[1.01,-0.15,-0.48,-0.80,-1.10,-1.40],[1.02,-0.40,-0.72,-1.02,-1.35,-1.62],[1.03,-0.05,-0.38,-0.68,-0.98,-1.28],[1.035,0.20,-0.20,-0.55,-0.85,-1.15,-1.48],[1.045,0.80,0.45],[1.05,-0.10,-0.45,-0.75,-1.05,-1.35],[1.06,-0.25,-0.58,-0.90,-1.20,-1.55,-1.85],[1.07,0.05,-0.30,-0.62,-0.92,-1.22],[1.08,-0.18,-0.50,-0.82,-1.12,-1.45],[1.09,-0.35,-0.68,-0.98,-1.30,-1.60],[1.10,0.02,-0.28,-0.60,-0.90,-1.20,-1.85],[1.11,-0.20,-0.52,-0.84,-1.15,-1.48],[1.12,-0.05,-0.38,-0.70,-1.00,-1.32,-1.62],[1.13,0.10,-0.22,-0.55,-0.85,-1.15],[1.14,-0.15,-0.48,-0.80,-1.10,-1.42,-1.80],[1.15,0.05,-0.30,-0.62,-0.95,-1.25],[1.16,-0.22,-0.55,-0.88,-1.18,-1.50],[1.17,0.15,-0.12,-0.45,-0.75,-1.05,-1.35],[1.18,0.25,-0.08,-0.40,-0.72,-1.02,-1.60],[1.19,-0.18,-0.50,-0.82,-1.12,-1.42],[1.20,0.10,-0.25,-0.58,-0.90,-1.20,-1.75],[1.21,-0.05,-0.38,-0.70,-1.00,-1.30],[1.22,0.20,-0.15,-0.48,-0.80,-1.10,-1.45],[1.23,0.05,-0.30,-0.62,-0.92,-1.25],[1.24,-0.10,-0.42,-0.75,-1.05,-1.38,-1.70],[1.25,0.15,-0.20,-0.52,-0.85,-1.15],[1.26,0.30,-0.05,-0.38,-0.70,-1.00,-1.35],[1.27,0.00,-0.32,-0.65,-0.95,-1.28,-1.60],[1.28,0.12,-0.22,-0.55,-0.88,-1.18],[1.29,-0.08,-0.40,-0.72,-1.02,-1.35],[1.30,0.25,-0.10,-0.45,-0.78,-1.08,-1.50],[1.31,0.05,-0.28,-0.60,-0.92,-1.22],[1.32,-0.12,-0.45,-0.78,-1.10,-1.40,-1.70],[1.33,0.20,-0.15,-0.48,-0.80,-1.12],[1.34,0.40,0.02,-0.32,-0.65,-0.95,-1.30],[1.35,0.10,-0.25,-0.58,-0.90,-1.20,-1.55],[1.36,-0.05,-0.38,-0.70,-1.02,-1.32],[1.37,0.25,-0.10,-0.42,-0.75,-1.05],[1.38,0.30,-0.02,-0.35,-0.68,-1.00,-1.40],[1.39,0.05,-0.28,-0.62,-0.95,-1.25],[1.40,-0.10,-0.45,-0.78,-1.10,-1.45,-1.75],[1.41,0.35,0.00,-0.32,-0.65,-0.98],[1.42,0.15,-0.20,-0.52,-0.85,-1.18,-1.50],[1.43,0.45,0.08,-0.25,-0.58,-0.90],[1.44,0.90,0.20,-0.15,-0.48,-0.80,-1.12],[1.45,0.00,-0.32,-0.65,-0.98,-1.30,-1.65],[1.46,0.25,-0.10,-0.42,-0.75,-1.08],[1.47,0.10,-0.25,-0.58,-0.90,-1.22,-1.55],[1.48,-0.05,-0.38,-0.70,-1.02,-1.35],[1.49,0.30,-0.05,-0.38,-0.70,-1.02],[1.50,0.15,-0.20,-0.52,-0.85,-1.18,-1.50],[1.51,0.40,0.02,-0.30,-0.62,-0.95],[1.52,0.05,-0.30,-0.62,-0.95,-1.28,-1.60],[1.53,0.25,-0.10,-0.42,-0.75,-1.08],[1.54,0.45,0.10,-0.22,-0.55,-0.88,-1.20],[1.55,0.00,-0.35,-0.68,-1.00,-1.32],[1.56,0.20,-0.15,-0.48,-0.80,-1.12,-1.45],[1.57,0.35,0.00,-0.32,-0.65,-0.98,-1.25],
[1.005,-0.05,-0.35,-0.65,-0.95],[1.025,0.05,-0.25,-0.55,-0.85,-1.15],[1.045,-0.15,-0.45,-0.75,-1.05],[1.065,0.0,-0.30,-0.60,-0.90],[1.085,0.10,-0.20,-0.50,-0.80,-1.10],[1.105,-0.10,-0.40,-0.70,-1.00],[1.125,0.05,-0.25,-0.55,-0.85],[1.145,0.15,-0.15,-0.45,-0.75,-1.05],[1.165,-0.05,-0.35,-0.65,-0.95],[1.185,0.10,-0.20,-0.50,-0.80,-1.10],[1.205,0.20,-0.10,-0.40,-0.70],[1.225,0.0,-0.30,-0.60,-0.90,-1.20],[1.245,0.15,-0.15,-0.45,-0.75],[1.265,0.05,-0.25,-0.55,-0.85,-1.15],[1.285,0.20,-0.10,-0.40,-0.70],[1.305,0.10,-0.20,-0.50,-0.80,-1.10],[1.325,0.25,-0.05,-0.35,-0.65],[1.345,0.05,-0.25,-0.55,-0.85,-1.15],[1.365,0.20,-0.10,-0.40,-0.70,-1.00],[1.385,0.10,-0.20,-0.50,-0.80],[1.405,0.25,-0.05,-0.35,-0.65,-0.95],[1.425,0.05,-0.25,-0.55,-0.85],[1.445,0.30,0.0,-0.30,-0.60,-0.90],[1.465,0.15,-0.15,-0.45,-0.75,-1.05],[1.485,0.25,-0.05,-0.35,-0.65],[1.505,0.10,-0.20,-0.50,-0.80,-1.10],[1.525,0.30,0.0,-0.30,-0.60],[1.545,0.15,-0.15,-0.45,-0.75,-1.05],[1.565,0.25,-0.05,-0.35,-0.65,-0.95]
];

(function () {
// ---- helpers ----
const flat = rows => rows.flatMap(([x, ...ys]) => ys.map(y => ({x, y})));
const triDown = {draw(ctx, size) { const r = Math.sqrt(size / Math.PI); ctx.moveTo(0, r); ctx.lineTo(-r, -r); ctx.lineTo(r, -r); ctx.closePath(); }};
const plusSym = {draw(ctx, size) { const r = Math.sqrt(size / Math.PI); ctx.moveTo(-r, 0); ctx.lineTo(r, 0); ctx.moveTo(0, -r); ctx.lineTo(0, r); }};
const circles = d => Plot.dot(flat(d), {x: "x", y: "y", r: 15, fill: "green", stroke: "green", strokeWidth: 3});
const tris = d => Plot.dot(flat(d), {x: "x", y: "y", r: 15.5, symbol: triDown, fill: "red", fillOpacity: 0.5, stroke: "red", strokeOpacity: 0.5, strokeWidth: 3});
const pluses = d => Plot.dot(flat(d), {x: "x", y: "y", r: 15, symbol: plusSym, fill: "none", stroke: "blue", strokeOpacity: 0.5, strokeWidth: 6});
const common = {
  width: 2100, marginLeft: 264, marginRight: 209,
  x: {domain: [0, 1.6]},
  style: {fontFamily: "DejaVu Sans", fontSize: "41.7px", color: "black", background: "transparent", overflow: "visible"}
};
const fig = document.getElementById("fig");

const topPlot = Plot.plot({
  ...common, height: 1370, marginTop: 252, marginBottom: 38,
  y: {domain: [-3, 2]},
  marks: [
    circles(topE0_0), tris(topE0_1), pluses(topE0_4),
    Plot.frame({stroke: "black", strokeWidth: 3.3}),
    Plot.axisX({ticks: xTicks, tickFormat: () => "", tickSize: 14.6, strokeWidth: 3.3, label: null}),
    Plot.axisY({ticks: topYTicks, tickFormat: d3.format("d"), tickSize: 14.6, tickPadding: 14.6, strokeWidth: 3.3, label: null, fontSize: 41.7})
  ]
});
topPlot.style.top = "0px";
fig.appendChild(topPlot);

const botPlot = Plot.plot({
  ...common, height: 730, marginTop: 37, marginBottom: 260,
  y: {domain: [-4, 2]},
  marks: [
    tris(botE0_1), pluses(botE0_4),
    Plot.frame({stroke: "black", strokeWidth: 3.3}),
    Plot.axisX({ticks: xTicks, tickFormat: d3.format(".1f"), tickSize: 14.6, tickPadding: 14.6, strokeWidth: 3.3, label: null, fontSize: 41.7}),
    Plot.axisY({ticks: botYTicks, tickFormat: d3.format("d"), tickSize: 14.6, tickPadding: 14.6, strokeWidth: 3.3, label: null, fontSize: 41.7})
  ]
});
botPlot.style.top = "1370px";
fig.appendChild(botPlot);

// ---- labels and legend overlay ----
const sub = 40.6;
const lx = 1425, ly = 281, lw = 437, lh = 278;
const rowsY = [335, 422, 508];
const symX = 1508, txtX = 1614;
let legend = `<rect x="${lx}" y="${ly}" width="${lw}" height="${lh}" rx="12" fill="white" fill-opacity="0.8" stroke="#cccccc" stroke-width="3.3"/>`;
legend += `<circle cx="${symX}" cy="${rowsY[0]}" r="15" fill="green" stroke="green" stroke-width="3"/>`;
legend += `<path d="M${symX},${rowsY[1]+15.5}L${symX-15.5},${rowsY[1]-15.5}L${symX+15.5},${rowsY[1]-15.5}Z" fill="red" fill-opacity="0.5" stroke="red" stroke-opacity="0.5" stroke-width="3"/>`;
legend += `<path d="M${symX-15},${rowsY[2]}H${symX+15}M${symX},${rowsY[2]-15}V${rowsY[2]+15}" fill="none" stroke="blue" stroke-opacity="0.5" stroke-width="6"/>`;
legendLabels.forEach((lab, i) => {
  legend += `<text x="${txtX}" y="${rowsY[i]+15}" font-size="58"><tspan font-style="italic">e</tspan><tspan font-size="${sub}" dy="8">0</tspan><tspan dy="-8">\u2009=\u2009${lab}</tspan></text>`;
});
const overlay = `<svg width="2100" height="2100" viewBox="0 0 2100 2100" style="top:0;pointer-events:none" font-family="DejaVu Sans" fill="black">
<text transform="translate(138,792) rotate(-90)" text-anchor="middle" font-size="58">log<tspan font-size="${sub}" dy="10">10</tspan><tspan dy="-10">(Δ</tspan><tspan font-style="italic">d</tspan><tspan font-size="${sub}" font-style="italic" dy="10">L</tspan><tspan dy="-10">/</tspan><tspan font-style="italic">d</tspan><tspan font-size="${sub}" font-style="italic" dy="10">L</tspan><tspan dy="-10">)</tspan></text>
<text transform="translate(138,1623) rotate(-90)" text-anchor="middle" font-size="58">log<tspan font-size="${sub}" dy="10">10</tspan><tspan dy="-10">(</tspan><tspan font-style="italic">R</tspan><tspan font-size="${sub}" font-style="italic" dy="12">d</tspan><tspan font-size="28.4" font-style="italic" dy="7">L</tspan><tspan dy="-19">)</tspan></text>
<text x="1077" y="1970" text-anchor="middle" font-size="58">inclination angle <tspan font-style="italic">ι</tspan></text>
${legend}
</svg>`;
fig.insertAdjacentHTML("beforeend", overlay);
})();
</script>
</body></html>
